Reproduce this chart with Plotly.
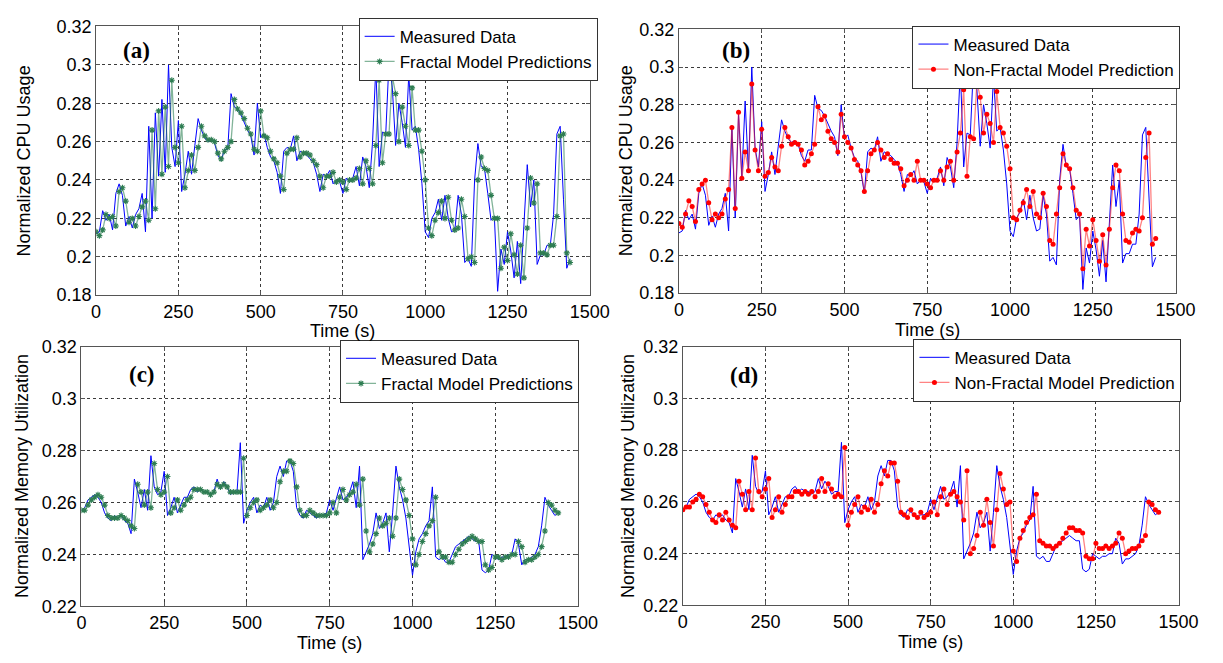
import plotly.graph_objects as go

# Sampling instants (s)
TIME_S = list(range(0, 1441, 10))

# Normalized CPU usage: measured trace and the two model predictions
cpu_measured = [
    0.212, 0.213, 0.224, 0.219, 0.222, 0.214, 0.233, 0.238, 0.232, 0.216,
    0.221, 0.215, 0.222, 0.225, 0.233, 0.213, 0.268, 0.220, 0.275, 0.242,
    0.282, 0.244, 0.300, 0.257, 0.247, 0.271, 0.234, 0.243, 0.255, 0.243,
    0.258, 0.272, 0.266, 0.262, 0.260, 0.261, 0.259, 0.253, 0.250, 0.256,
    0.256, 0.285, 0.278, 0.277, 0.274, 0.270, 0.266, 0.263, 0.253, 0.280,
    0.262, 0.264, 0.257, 0.252, 0.250, 0.244, 0.233, 0.255, 0.257, 0.256,
    0.263, 0.250, 0.255, 0.254, 0.253, 0.251, 0.249, 0.243, 0.234, 0.243,
    0.242, 0.245, 0.238, 0.240, 0.239, 0.233, 0.241, 0.239, 0.241, 0.247,
    0.237, 0.252, 0.247, 0.236, 0.260, 0.299, 0.247, 0.265, 0.264, 0.302,
    0.288, 0.258, 0.280, 0.270, 0.257, 0.295, 0.266, 0.268, 0.256, 0.238,
    0.213, 0.210, 0.220, 0.223, 0.230, 0.219, 0.232, 0.220, 0.213, 0.214,
    0.232, 0.222, 0.197, 0.199, 0.195, 0.240, 0.259, 0.247, 0.246, 0.233,
    0.219, 0.221, 0.182, 0.204, 0.196, 0.213, 0.203, 0.189, 0.208, 0.186,
    0.215, 0.248, 0.226, 0.240, 0.196, 0.201, 0.201, 0.206, 0.206, 0.222,
    0.264, 0.268, 0.230, 0.194, 0.199,
]

cpu_fractal = [
    0.213, 0.211, 0.214, 0.222, 0.220, 0.221, 0.216, 0.234, 0.236, 0.229,
    0.218, 0.220, 0.216, 0.221, 0.226, 0.229, 0.219, 0.266, 0.225, 0.276,
    0.243, 0.278, 0.247, 0.292, 0.257, 0.249, 0.268, 0.236, 0.245, 0.253,
    0.245, 0.257, 0.268, 0.263, 0.261, 0.261, 0.260, 0.254, 0.251, 0.255,
    0.257, 0.260, 0.282, 0.277, 0.275, 0.272, 0.267, 0.264, 0.256, 0.255,
    0.276, 0.263, 0.262, 0.255, 0.251, 0.249, 0.242, 0.235, 0.254, 0.256,
    0.256, 0.262, 0.252, 0.254, 0.254, 0.253, 0.250, 0.248, 0.242, 0.236,
    0.242, 0.242, 0.244, 0.239, 0.240, 0.239, 0.235, 0.240, 0.240, 0.241,
    0.246, 0.238, 0.250, 0.246, 0.238, 0.258, 0.292, 0.249, 0.264, 0.264,
    0.294, 0.285, 0.260, 0.278, 0.268, 0.258, 0.288, 0.266, 0.266, 0.255,
    0.240, 0.215, 0.211, 0.219, 0.223, 0.229, 0.220, 0.231, 0.219, 0.214,
    0.215, 0.230, 0.221, 0.199, 0.200, 0.197, 0.240, 0.252, 0.246, 0.245,
    0.232, 0.220, 0.220, 0.194, 0.205, 0.198, 0.212, 0.201, 0.191, 0.206,
    0.189, 0.215, 0.241, 0.228, 0.238, 0.202, 0.202, 0.201, 0.206, 0.206,
    0.221, 0.263, 0.264, 0.202, 0.197,
]

cpu_nonfractal = [
    0.217, 0.215, 0.222, 0.229, 0.226, 0.218, 0.235, 0.238, 0.240, 0.228,
    0.219, 0.222, 0.220, 0.222, 0.230, 0.235, 0.268, 0.225, 0.276, 0.241,
    0.255, 0.245, 0.291, 0.256, 0.245, 0.267, 0.242, 0.244, 0.252, 0.247,
    0.245, 0.258, 0.268, 0.263, 0.259, 0.260, 0.259, 0.256, 0.248, 0.250,
    0.254, 0.259, 0.279, 0.272, 0.274, 0.266, 0.262, 0.260, 0.255, 0.275,
    0.263, 0.260, 0.257, 0.251, 0.248, 0.245, 0.234, 0.245, 0.254, 0.256,
    0.260, 0.256, 0.252, 0.254, 0.251, 0.249, 0.249, 0.246, 0.237, 0.240,
    0.243, 0.240, 0.250, 0.240, 0.240, 0.238, 0.236, 0.240, 0.240, 0.245,
    0.240, 0.247, 0.250, 0.240, 0.255, 0.265, 0.288, 0.242, 0.263, 0.262,
    0.292, 0.284, 0.265, 0.275, 0.270, 0.260, 0.287, 0.268, 0.265, 0.258,
    0.246, 0.220, 0.219, 0.224, 0.228, 0.235, 0.226, 0.234, 0.222, 0.220,
    0.233, 0.226, 0.208, 0.206, 0.222, 0.236, 0.254, 0.248, 0.246, 0.236,
    0.224, 0.222, 0.193, 0.214, 0.205, 0.219, 0.208, 0.197, 0.211, 0.195,
    0.214, 0.236, 0.248, 0.245, 0.222, 0.208, 0.207, 0.212, 0.214, 0.213,
    0.220, 0.252, 0.265, 0.206, 0.209,
]

# Normalized memory utilization: measured trace and the two model predictions
mem_measured = [
    0.257, 0.258, 0.261, 0.262, 0.263, 0.262, 0.260, 0.256, 0.254, 0.253,
    0.255, 0.254, 0.255, 0.253, 0.252, 0.248, 0.269, 0.264, 0.258, 0.265,
    0.257, 0.278, 0.266, 0.263, 0.264, 0.272, 0.255, 0.258, 0.262, 0.256,
    0.259, 0.262, 0.262, 0.265, 0.266, 0.264, 0.265, 0.264, 0.264, 0.263,
    0.264, 0.269, 0.265, 0.268, 0.266, 0.263, 0.264, 0.264, 0.283, 0.252,
    0.257, 0.260, 0.262, 0.256, 0.259, 0.258, 0.262, 0.257, 0.260, 0.270,
    0.274, 0.270, 0.276, 0.276, 0.272, 0.258, 0.255, 0.254, 0.257, 0.256,
    0.255, 0.254, 0.255, 0.255, 0.256, 0.261, 0.257, 0.262, 0.266, 0.261,
    0.262, 0.264, 0.268, 0.258, 0.274, 0.238, 0.241, 0.244, 0.248, 0.256,
    0.250, 0.252, 0.256, 0.241, 0.256, 0.274, 0.266, 0.261, 0.254, 0.244,
    0.232, 0.241, 0.246, 0.248, 0.251, 0.253, 0.266, 0.239, 0.238, 0.239,
    0.237, 0.237, 0.240, 0.243, 0.244, 0.245, 0.246, 0.247, 0.246, 0.245,
    0.245, 0.234, 0.233, 0.234, 0.240, 0.239, 0.238, 0.239, 0.239, 0.240,
    0.240, 0.246, 0.244, 0.236, 0.238, 0.238, 0.239, 0.240, 0.243, 0.251,
    0.262, 0.259, 0.257, 0.255, 0.256,
]

mem_fractal = [
    0.257, 0.257, 0.259, 0.261, 0.262, 0.263, 0.262, 0.259, 0.255, 0.254,
    0.254, 0.254, 0.255, 0.254, 0.253, 0.251, 0.250, 0.267, 0.264, 0.259,
    0.264, 0.258, 0.275, 0.265, 0.263, 0.264, 0.270, 0.256, 0.258, 0.261,
    0.257, 0.259, 0.261, 0.262, 0.265, 0.265, 0.265, 0.264, 0.264, 0.263,
    0.264, 0.267, 0.266, 0.267, 0.266, 0.264, 0.264, 0.264, 0.264, 0.277,
    0.255, 0.258, 0.260, 0.261, 0.257, 0.258, 0.259, 0.261, 0.258, 0.260,
    0.268, 0.272, 0.272, 0.276, 0.275, 0.266, 0.257, 0.255, 0.255, 0.257,
    0.256, 0.255, 0.255, 0.255, 0.255, 0.256, 0.260, 0.256, 0.262, 0.265,
    0.261, 0.263, 0.264, 0.267, 0.259, 0.269, 0.249, 0.241, 0.244, 0.248,
    0.254, 0.251, 0.252, 0.254, 0.247, 0.254, 0.269, 0.265, 0.261, 0.255,
    0.246, 0.236, 0.240, 0.245, 0.248, 0.251, 0.253, 0.262, 0.241, 0.239,
    0.239, 0.237, 0.237, 0.240, 0.242, 0.244, 0.245, 0.246, 0.247, 0.246,
    0.245, 0.245, 0.236, 0.234, 0.235, 0.239, 0.239, 0.238, 0.239, 0.239,
    0.240, 0.240, 0.245, 0.243, 0.237, 0.238, 0.238, 0.239, 0.240, 0.243,
    0.249, 0.260, 0.259, 0.257, 0.256,
]

mem_nonfractal = [
    0.257, 0.258, 0.258, 0.260, 0.261, 0.263, 0.262, 0.259, 0.256, 0.253,
    0.252, 0.255, 0.253, 0.256, 0.253, 0.251, 0.250, 0.268, 0.263, 0.257,
    0.264, 0.257, 0.277, 0.264, 0.262, 0.265, 0.269, 0.254, 0.257, 0.262,
    0.256, 0.259, 0.262, 0.262, 0.264, 0.264, 0.263, 0.264, 0.263, 0.264,
    0.262, 0.264, 0.269, 0.264, 0.267, 0.265, 0.262, 0.263, 0.262, 0.281,
    0.251, 0.256, 0.259, 0.262, 0.256, 0.258, 0.257, 0.261, 0.256, 0.259,
    0.267, 0.272, 0.270, 0.275, 0.275, 0.268, 0.256, 0.255, 0.254, 0.257,
    0.255, 0.254, 0.256, 0.254, 0.255, 0.256, 0.260, 0.255, 0.262, 0.265,
    0.259, 0.263, 0.264, 0.262, 0.260, 0.253, 0.272, 0.240, 0.242, 0.247,
    0.256, 0.251, 0.261, 0.252, 0.243, 0.257, 0.271, 0.265, 0.259, 0.260,
    0.241, 0.237, 0.246, 0.249, 0.252, 0.254, 0.255, 0.263, 0.245, 0.244,
    0.243, 0.243, 0.242, 0.243, 0.244, 0.246, 0.248, 0.250, 0.250, 0.249,
    0.249, 0.248, 0.239, 0.238, 0.238, 0.244, 0.242, 0.242, 0.243, 0.242,
    0.243, 0.244, 0.248, 0.246, 0.240, 0.241, 0.242, 0.242, 0.243, 0.245,
    0.247, 0.260, 0.259, 0.257, 0.256,
]

X_TICKS = [0, 250, 500, 750, 1000, 1250, 1500]
CPU_TICKS = [0.18, 0.20, 0.22, 0.24, 0.26, 0.28, 0.30, 0.32]
CPU_TICK_TEXT = ["0.18", "0.2", "0.22", "0.24", "0.26", "0.28", "0.3", "0.32"]
MEM_TICKS = [0.22, 0.24, 0.26, 0.28, 0.30, 0.32]
MEM_TICK_TEXT = ["0.22", "0.24", "0.26", "0.28", "0.3", "0.32"]

for series in (cpu_measured, cpu_fractal, cpu_nonfractal,
               mem_measured, mem_fractal, mem_nonfractal):
    assert len(series) == len(TIME_S), len(series)

W, H = 1223, 663
SANS = "Liberation Sans, Arial, sans-serif"
SERIF = "Liberation Serif, Times New Roman, serif"

BLUE = "#0000ff"
GREEN_LINE = "rgba(46,130,85,0.6)"
GREEN_MARK = "#2e7d52"
RED_LINE = "rgba(255,30,30,0.55)"
RED_MARK = "#ff0000"


def fx(px):
    return px / W


def fy(px):
    return 1 - px / H


# per panel: plot box (left, right, top, bottom) in px, series, styles,
# legend top-right corner, label / title positions in px
panels = [
    dict(tag="(a)", n="", box=(93, 597, 17, 294), meas=cpu_measured,
         pred=cpu_fractal, kind="fractal", yr=[0.18, 0.32],
         yt=(CPU_TICKS, CPU_TICK_TEXT), ytitle="Normalized CPU Usage",
         legend_pos=(605, 8), tag_pos=(134, 42), ytitle_x=19, xtitle_y=331),
    dict(tag="(b)", n="2", box=(688, 1195, 20, 292), meas=cpu_measured,
         pred=cpu_nonfractal, kind="nonfractal", yr=[0.18, 0.32],
         yt=(CPU_TICKS, CPU_TICK_TEXT), ytitle="Normalized CPU Usage",
         legend_pos=(1200, 16), tag_pos=(746, 42), ytitle_x=634, xtitle_y=330),
    dict(tag="(c)", n="3", box=(78, 585, 347, 615), meas=mem_measured,
         pred=mem_fractal, kind="fractal", yr=[0.22, 0.32],
         yt=(MEM_TICKS, MEM_TICK_TEXT), ytitle="Normalized Memory Utilization",
         legend_pos=(586, 340), tag_pos=(140, 376), ytitle_x=18, xtitle_y=653),
    dict(tag="(d)", n="4", box=(692, 1198, 347, 614), meas=mem_measured,
         pred=mem_nonfractal, kind="nonfractal", yr=[0.22, 0.32],
         yt=(MEM_TICKS, MEM_TICK_TEXT), ytitle="Normalized Memory Utilization",
         legend_pos=(1201, 339), tag_pos=(754, 377), ytitle_x=636, xtitle_y=652),
]

fig = go.Figure()
layout = dict(
    width=W, height=H,
    margin=dict(l=0, r=0, t=0, b=0),
    paper_bgcolor="white", plot_bgcolor="white",
    font=dict(family=SANS, size=18, color="black"),
    annotations=[],
)

for p in panels:
    n = p["n"]
    xa, ya = "x" + n, "y" + n
    leg = "legend" + n
    left, right, top, bottom = p["box"]

    fig.add_trace(go.Scatter(
        x=TIME_S, y=p["meas"], mode="lines", name="Measured Data",
        line=dict(color=BLUE, width=1), xaxis=xa, yaxis=ya, legend=leg,
    ))
    if p["kind"] == "fractal":
        fig.add_trace(go.Scatter(
            x=TIME_S, y=p["pred"], mode="lines+markers",
            name="Fractal Model Predictions",
            line=dict(color=GREEN_LINE, width=1.3),
            marker=dict(symbol="asterisk-open", size=5,
                        color=GREEN_MARK, line=dict(color=GREEN_MARK, width=1.1)),
            xaxis=xa, yaxis=ya, legend=leg,
        ))
    else:
        fig.add_trace(go.Scatter(
            x=TIME_S, y=p["pred"], mode="lines+markers",
            name="Non-Fractal Model Prediction",
            line=dict(color=RED_LINE, width=1.3),
            marker=dict(symbol="circle", size=5, color=RED_MARK,
                        line=dict(width=0)),
            xaxis=xa, yaxis=ya, legend=leg,
        ))

    axis_common = dict(
        showgrid=True, gridcolor="#3a3a3a", griddash="dot", gridwidth=1,
        showline=True, linecolor="#555555", linewidth=1, mirror="ticks",
        ticks="inside", ticklen=4, tickcolor="#555555",
        zeroline=False, tickfont=dict(family=SANS, size=18, color="black"),
    )
    layout["xaxis" + n] = dict(
        axis_common, domain=[fx(left), fx(right)], anchor=ya,
        range=[0, 1500], tickvals=X_TICKS,
        ticktext=[str(v) for v in X_TICKS],
    )
    layout["yaxis" + n] = dict(
        axis_common, domain=[fy(bottom), fy(top)], anchor=xa,
        range=p["yr"], tickvals=p["yt"][0], ticktext=p["yt"][1],
    )
    lx, ly = p["legend_pos"]
    layout[leg] = dict(
        x=fx(lx), y=fy(ly), xanchor="right", yanchor="top",
        xref="paper", yref="paper",
        bgcolor="white", bordercolor="#333333", borderwidth=1,
        font=dict(family=SANS, size=17, color="black"),
        itemwidth=30, tracegroupgap=0,
    )

    tx, ty = p["tag_pos"]
    layout["annotations"].append(dict(
        text="<b>%s</b>" % p["tag"], x=fx(tx), y=fy(ty),
        xref="paper", yref="paper", showarrow=False,
        xanchor="center", yanchor="middle",
        font=dict(family=SERIF, size=23, color="black"),
    ))
    layout["annotations"].append(dict(
        text=p["ytitle"], textangle=-90,
        x=fx(p["ytitle_x"]), y=fy((top + bottom) / 2),
        xref="paper", yref="paper", showarrow=False,
        xanchor="center", yanchor="middle",
        font=dict(family=SANS, size=18, color="black"),
    ))
    layout["annotations"].append(dict(
        text="Time (s)", x=fx((left + right) / 2), y=fy(p["xtitle_y"]),
        xref="paper", yref="paper", showarrow=False,
        xanchor="center", yanchor="middle",
        font=dict(family=SANS, size=18, color="black"),
    ))

fig.update_layout(**layout)
fig.write_html("out.html")
